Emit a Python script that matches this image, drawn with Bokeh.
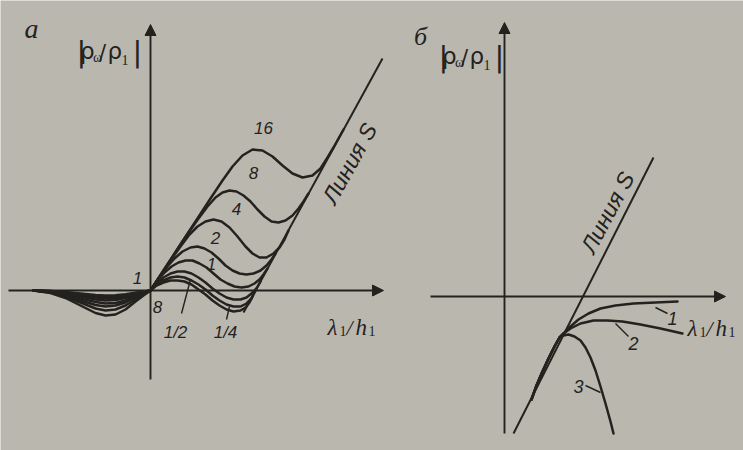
import math
from bokeh.plotting import figure
from bokeh.models import Arrow, NormalHead, Range1d
from bokeh.core.properties import value
from bokeh.embed import file_html
from bokeh.resources import INLINE

INK = "#24221f"
PAPER = "#bab8ae"

# ---------------- panel а : family of curves (parameter 16 ... 1/8) ----------------
a_params = ["16", "8", "4", "2", "1", "1/2", "1/4", "1/8"]
a_left_x = [-11.7, -10.0, -8.5, -7.0, -5.5, -4.5, -3.5, -2.5, -1.5, -0.7]
a_left_y = {
    "16":  [0, -0.25, -0.75, -1.5, -2.25, -2.5, -2.4, -1.9, -1.1, -0.5],
    "8":   [0, -0.2, -0.6, -1.2, -1.8, -2.0, -1.9, -1.5, -0.9, -0.4],
    "4":   [0, -0.15, -0.5, -1.0, -1.45, -1.6, -1.5, -1.2, -0.7, -0.3],
    "2":   [0, -0.13, -0.4, -0.8, -1.15, -1.3, -1.25, -1.0, -0.6, -0.25],
    "1":   [0, -0.1, -0.3, -0.6, -0.9, -1.0, -0.95, -0.75, -0.45, -0.2],
    "1/2": [0, -0.08, -0.25, -0.5, -0.7, -0.8, -0.75, -0.6, -0.35, -0.15],
    "1/4": [0, -0.06, -0.2, -0.4, -0.6, -0.65, -0.6, -0.5, -0.3, -0.13],
    "1/8": [0, -0.05, -0.15, -0.3, -0.45, -0.5, -0.48, -0.38, -0.22, -0.1],
}
a_right_x = {
    "16":  [0, 1.5, 3.0, 4.5, 6.0, 7.2, 8.2, 9.2, 10.2, 11.2, 12.2, 13.2, 14.2, 15.2, 16.2, 17.0, 17.7, 18.3, 18.8, 19.3],
    "8":   [0, 1.5, 2.8, 3.8, 4.8, 5.7, 6.5, 7.2, 7.9, 8.6, 9.3, 10.0, 10.7, 11.4, 12.1, 12.8, 13.5, 14.2, 14.8, 15.3, 15.8],
    "4":   [0, 1.0, 2.0, 3.0, 3.9, 4.7, 5.5, 6.3, 7.1, 7.9, 8.7, 9.5, 10.2, 10.9, 11.6, 12.3, 12.9, 13.4, 13.8],
    "2":   [0, 0.8, 1.6, 2.4, 3.2, 4.0, 4.7, 5.4, 6.1, 6.8, 7.5, 8.2, 8.9, 9.6, 10.3, 11.0, 11.6, 12.1, 12.5],
    "1":   [0, 0.7, 1.4, 2.1, 2.8, 3.5, 4.2, 4.9, 5.6, 6.3, 7.0, 7.7, 8.4, 9.1, 9.8, 10.4, 10.9, 11.3, 11.7],
    "1/2": [0, 0.6, 1.3, 2.0, 2.7, 3.4, 4.1, 4.8, 5.5, 6.2, 6.9, 7.6, 8.3, 9.0, 9.6, 10.1, 10.6, 11.0],
    "1/4": [0, 0.6, 1.3, 2.0, 2.7, 3.4, 4.1, 4.8, 5.5, 6.2, 6.9, 7.6, 8.3, 9.0, 9.6, 10.1, 10.6],
    "1/8": [0, 0.6, 1.3, 2.0, 2.7, 3.4, 4.1, 4.8, 5.5, 6.2, 6.9, 7.6, 8.3, 9.0, 9.5, 9.9, 10.2],
}
a_right_y = {
    "16":  [0, 2.3, 4.6, 6.9, 9.2, 11.0, 12.4, 13.5, 14.1, 14.0, 13.4, 12.5, 11.7, 11.3, 11.5, 12.2, 13.3, 14.3, 15.2, 16.1],
    "8":   [0, 2.3, 4.3, 5.8, 7.2, 8.4, 9.3, 9.8, 10.0, 9.9, 9.5, 8.9, 8.1, 7.4, 6.9, 6.8, 7.0, 7.5, 8.2, 8.9, 9.7],
    "4":   [0, 1.5, 3.0, 4.4, 5.6, 6.4, 6.9, 7.1, 6.9, 6.3, 5.4, 4.4, 3.7, 3.3, 3.3, 3.7, 4.3, 5.1, 6.0],
    "2":   [0, 1.2, 2.3, 3.2, 3.9, 4.3, 4.4, 4.2, 3.8, 3.2, 2.5, 2.0, 1.7, 1.6, 1.7, 2.0, 2.5, 3.1, 3.7],
    "1":   [0, 1.0, 1.8, 2.4, 2.8, 3.0, 3.0, 2.7, 2.3, 1.7, 1.1, 0.7, 0.4, 0.3, 0.4, 0.7, 1.1, 1.6, 2.2],
    "1/2": [0, 0.7, 1.3, 1.7, 1.9, 1.9, 1.7, 1.3, 0.8, 0.2, -0.3, -0.7, -0.9, -0.9, -0.7, -0.3, 0.2, 0.9],
    "1/4": [0, 0.6, 1.0, 1.3, 1.4, 1.3, 1.0, 0.6, 0.1, -0.5, -1.0, -1.4, -1.6, -1.6, -1.3, -0.8, 0.2],
    "1/8": [0, 0.5, 0.8, 1.0, 1.0, 0.9, 0.6, 0.1, -0.4, -1.0, -1.5, -1.9, -2.1, -2.0, -1.7, -1.2, -0.6],
}
a_line_s_x = [9.3, 23.2]
a_line_s_y = [-2.2, 23.2]

# curve labels of panel а
a_lab_text = ["16", "8", "4", "2", "1", "1", "8", "1/2", "1/4"]
a_lab_x = [11.3, 10.3, 8.6, 6.5, 6.1, -1.3, 0.7, 2.5, 7.5]
a_lab_y = [16.3, 11.8, 8.2, 5.3, 2.7, 1.3, -1.6, -4.2, -4.2]
a_lead_x = [[4.0, 3.1], [7.9, 7.6]]
a_lead_y = [[1.1, -2.3], [-1.6, -2.9]]

# ---------------- panel б : curves 1, 2, 3 ----------------
b_common_x = [2.7, 3.2, 3.8, 4.4, 5.0, 5.5]
b_common_y = [-10.3, -8.9, -7.5, -6.2, -5.0, -4.1]
b_c1_x = [5.9, 6.6, 7.4, 8.4, 9.6, 11.1, 12.9, 15.1, 17.3]
b_c1_y = [-3.7, -3.0, -2.3, -1.7, -1.2, -0.9, -0.7, -0.6, -0.5]
b_c2_x = [5.9, 6.6, 7.6, 8.9, 10.3, 11.8, 13.6, 15.6, 17.8]
b_c2_y = [-3.7, -3.2, -2.7, -2.4, -2.4, -2.5, -2.8, -3.2, -3.7]
b_c3_x = [5.9, 6.4, 7.0, 7.6, 8.1, 8.6, 9.1, 9.6, 10.1, 10.6, 10.9]
b_c3_y = [-3.9, -3.8, -4.0, -4.4, -5.1, -6.1, -7.4, -9.0, -10.7, -12.5, -13.7]
b_line_s_x = [0.9, 14.9]
b_line_s_y = [-13.7, 13.9]

b_lab_text = ["1", "2", "3"]
b_lab_x = [16.8, 12.9, 7.4]
b_lab_y = [-2.2, -4.7, -9.0]
b_lead_x = [[15.1, 16.3], [11.1, 12.4], [8.1, 9.6]]
b_lead_y = [[-1.1, -1.7], [-2.7, -4.0], [-8.9, -9.6]]

# axis label pieces: (text, dx, dy, size, font)
ylab_pieces = [("|", 0.0, 0.0, "29px", "DejaVu Sans"),
               ("ρ", 0.35, 0.1, "23px", "DejaVu Sans"),
               ("ω", 1.65, -0.6, "14px", "Liberation Serif"),
               ("/", 2.25, -0.1, "21px", "DejaVu Sans"),
               ("ρ", 3.1, 0.1, "23px", "DejaVu Sans"),
               ("1", 4.5, -0.8, "14px", "Liberation Serif"),
               ("|", 5.6, 0.0, "29px", "DejaVu Sans")]
xlab_pieces = [("λ", 0.0, 0.0, "23px", "Liberation Serif", "italic"),
               ("1", 1.2, -0.35, "14px", "Liberation Serif", "normal"),
               ("/", 1.9, 0.0, "22px", "Liberation Serif", "italic"),
               ("h", 2.8, 0.0, "23px", "Liberation Serif", "italic"),
               ("1", 4.1, -0.35, "14px", "Liberation Serif", "normal")]

# one canvas, two coordinate systems (panel а = default ranges, panel б = "b" ranges)
p = figure(width=743, height=450, x_range=Range1d(-15.0, 59.3), y_range=Range1d(-16.0, 29.0),
           x_axis_location=None, y_axis_location=None, toolbar_location=None,
           output_backend="svg", min_border=0)
p.extra_x_ranges = {"b": Range1d(-50.4, 23.9)}
p.extra_y_ranges = {"b": Range1d(-15.4, 29.6)}
p.grid.visible = False
p.outline_line_color = None
p.background_fill_color = PAPER
p.border_fill_color = PAPER

A = dict(x_range_name="default", y_range_name="default")
B = dict(x_range_name="b", y_range_name="b")


def axes(x0, x1, y0, y1, rn):
    for xs, ys, xe, ye in [(x0, 0, x1, 0), (0, y0, 0, y1)]:
        p.add_layout(Arrow(end=NormalHead(size=11, fill_color=INK, line_color=INK, line_width=1),
                           x_start=xs, y_start=ys, x_end=xe, y_end=ye,
                           line_color=INK, line_width=1.9, **rn))


def ylabel(ax, ay, rn):
    for t, dx, dy, sz, fnt in ylab_pieces:
        p.text(x=[ax + dx], y=[ay + dy], text=[t], text_font=value(fnt), text_font_size=sz,
               text_color=INK, text_align="left", text_baseline="alphabetic", **rn)


def xlabel(ax, ay, rn):
    for t, dx, dy, sz, fnt, st in xlab_pieces:
        p.text(x=[ax + dx], y=[ay + dy], text=[t], text_font=value(fnt), text_font_size=sz,
               text_font_style=st, text_color=INK, text_align="left", text_baseline="alphabetic", **rn)


# ---------- panel а ----------
axes(-14.2, 23.3, -8.9, 26.6, A)
for k in a_params:
    p.line(a_left_x + a_right_x[k], a_left_y[k] + a_right_y[k], line_color=INK,
           line_width=2.5, line_join="round", line_cap="round", **A)
p.line(a_line_s_x, a_line_s_y, line_color=INK, line_width=2.0, **A)
p.multi_line(a_lead_x, a_lead_y, line_color=INK, line_width=1.4, **A)
p.text(x=a_lab_x, y=a_lab_y, text=a_lab_text, text_font=value("Liberation Sans"),
       text_font_style="italic", text_font_size=value("17px"), text_color=INK,
       text_align="center", text_baseline="middle", **A)
p.text(x=[19.9], y=[12.7], text=["Линия S"], angle=math.radians(61),
       text_font=value("Liberation Sans"), text_font_style="italic", text_font_size="23px",
       text_color=INK, text_align="center", text_baseline="middle", **A)
p.text(x=[-11.9], y=[26.2], text=["а"], text_font=value("Liberation Serif"),
       text_font_style="italic", text_font_size="28px", text_color=INK,
       text_align="center", text_baseline="middle", **A)
ylabel(-7.4, 23.9, A)
xlabel(17.7, -3.7, A)

# ---------- panel б ----------
axes(-7.4, 22.1, -13.7, 27.4, B)
p.line(b_line_s_x, b_line_s_y, line_color=INK, line_width=2.0, **B)
for cx, cy in [(b_c1_x, b_c1_y), (b_c2_x, b_c2_y), (b_c3_x, b_c3_y)]:
    p.line(b_common_x + cx, b_common_y + cy, line_color=INK, line_width=2.5,
           line_join="round", line_cap="round", **B)
p.multi_line(b_lead_x, b_lead_y, line_color=INK, line_width=1.4, **B)
p.text(x=b_lab_x, y=b_lab_y, text=b_lab_text, text_font=value("Liberation Sans"),
       text_font_style="italic", text_font_size="18px", text_color=INK,
       text_align="center", text_baseline="middle", **B)
p.text(x=[10.3], y=[8.4], text=["Линия S"], angle=math.radians(62),
       text_font=value("Liberation Sans"), text_font_style="italic", text_font_size="23px",
       text_color=INK, text_align="center", text_baseline="middle", **B)
p.text(x=[-8.4], y=[26.0], text=["б"], text_font=value("Liberation Serif"),
       text_font_style="italic", text_font_size="26px", text_color=INK,
       text_align="center", text_baseline="middle", **B)
ylabel(-6.6, 24.0, B)
xlabel(18.3, -3.2, B)

html = file_html(p, INLINE, title="Линия S")
html = html.replace("<body>", '<body style="background:%s">' % PAPER, 1)
open("out.html", "w").write(html)
